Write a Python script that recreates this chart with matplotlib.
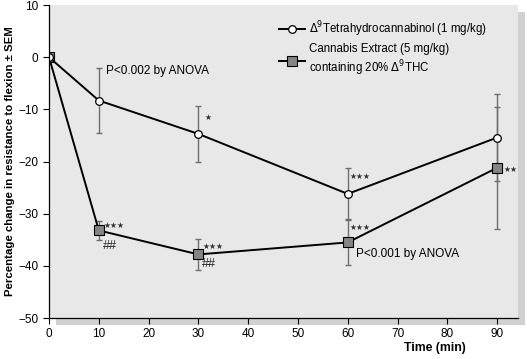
import matplotlib
matplotlib.use('Agg')
import matplotlib.pyplot as plt
import matplotlib.patheffects as pe

plt.rcParams['font.family'] = ['Liberation Sans', 'DejaVu Sans']

# data
time = [0, 10, 30, 60, 90]
thc_mean = [0, -8.3, -14.7, -26.2, -15.4]
thc_sem = [0, 6.3, 5.3, 4.9, 8.3]
ext_mean = [0, -33.2, -37.8, -35.5, -21.2]
ext_sem = [0, 1.8, 3.0, 4.3, 11.7]

thc_label = r'$\Delta^9$Tetrahydrocannabinol (1 mg/kg)'
ext_label = 'Cannabis Extract (5 mg/kg)\ncontaining 20% $\\Delta^9$THC'

# significance markers (stars, x, y) and (hashes, x, y)
stars = [
    (1, 31.3, -11.6),
    (3, 60.4, -22.8),
    (3, 11.0, -32.2),
    (3, 30.8, -36.3),
    (3, 60.4, -32.7),
    (2, 91.3, -21.6),
]
hashes = [
    (10.9, -36.2),
    (30.8, -39.6),
]

fig = plt.figure(figsize=(5.27, 3.59), dpi=100)
ax = fig.add_axes([0.093, 0.114, 0.89, 0.872])
ax.set_facecolor('#e8e8e8')
ax.patch.set_path_effects([pe.SimplePatchShadow(offset=(5, -5), shadow_rgbFace='0.6', alpha=0.45),
                           pe.Normal()])

ax.errorbar(time, thc_mean, yerr=thc_sem, fmt='none', ecolor='#6e6e6e', elinewidth=1.0,
            capsize=2, capthick=1.0, zorder=2)
ax.errorbar(time, ext_mean, yerr=ext_sem, fmt='none', ecolor='#6e6e6e', elinewidth=1.0,
            capsize=2, capthick=1.0, zorder=2)
ax.plot(time, thc_mean, color='black', lw=1.4, marker='o', ms=5.5, mfc='white', mec='black',
        mew=0.9, label=thc_label, zorder=4)
ax.plot(time, ext_mean, color='black', lw=1.4, marker='s', ms=7, mfc='#858585', mec='black',
        mew=0.8, label=ext_label, zorder=3)

for n, x, y in stars:
    ax.text(x, y, '\u2605' * n, fontsize=5.6, family='DejaVu Sans', color='#333333',
            va='center', ha='left')
for x, y in hashes:
    ax.text(x, y, '##', fontsize=9, color='#222222', va='center', ha='left')

ax.text(11.5, -2.6, 'P<0.002 by ANOVA', fontsize=8.5, va='center')
ax.text(61.6, -37.7, 'P<0.001 by ANOVA', fontsize=8.5, va='center')

ax.set_xlim(0, 94.2)
ax.set_ylim(-50, 10)
ax.set_xticks(range(0, 91, 10))
ax.set_yticks(range(-50, 11, 10))
ax.set_yticklabels(['\u221250', '\u221240', '\u221230', '\u221220', '\u221210', '0', '10'])
ax.tick_params(labelsize=8.5, length=4, width=0.8, direction='out')
for s in ['top', 'right']:
    ax.spines[s].set_visible(False)
for s in ['left', 'bottom']:
    ax.spines[s].set_linewidth(0.9)
    ax.spines[s].set_zorder(5)

ax.set_ylabel('Percentage change in resistance to flexion \u00b1 SEM', fontsize=8.2,
              fontweight='bold')
ax.yaxis.set_label_coords(-0.072, 0.5)
ax.set_xlabel('Time (min)', fontsize=8.8, fontweight='bold')
ax.xaxis.set_label_coords(0.823, -0.078)

ax.legend(loc='upper left', bbox_to_anchor=(0.48, 0.97), frameon=False, fontsize=8.3,
          handlelength=2.3, handletextpad=0.3, labelspacing=0.4, borderaxespad=0)

fig.savefig('out.png', dpi=100)
